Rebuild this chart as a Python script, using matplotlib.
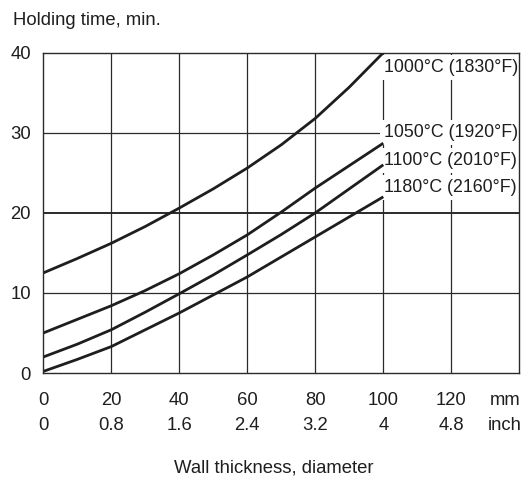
import matplotlib
matplotlib.use("Agg")
import matplotlib.pyplot as plt

plt.rcParams['font.family'] = ['Liberation Sans', 'DejaVu Sans']

# ---- data ----
thickness_mm = [0, 10, 20, 30, 40, 50, 60, 70, 80, 90, 100]
t_1000 = [12.5, 14.3, 16.2, 18.3, 20.6, 23.0, 25.6, 28.5, 31.8, 35.7, 40.0]
t_1050 = [5.0, 6.7, 8.4, 10.3, 12.4, 14.75, 17.25, 20.1, 23.1, 25.9, 28.7]
t_1100 = [2.0, 3.6, 5.4, 7.6, 9.9, 12.25, 14.75, 17.3, 20.0, 23.0, 26.0]
t_1180 = [0.2, 1.7, 3.3, 5.4, 7.5, 9.75, 12.0, 14.5, 17.0, 19.5, 22.0]
series = [t_1000, t_1050, t_1100, t_1180]
series_labels = ["1000°C (1830°F)", "1050°C (1920°F)", "1100°C (2010°F)", "1180°C (2160°F)"]
label_y = [38.2, 30.0, 26.5, 23.2]

x_ticks = [0, 20, 40, 60, 80, 100, 120]
x_labels_mm = ["0", "20", "40", "60", "80", "100", "120"]
x_labels_inch = ["0", "0.8", "1.6", "2.4", "3.2", "4", "4.8"]
y_ticks = [0, 10, 20, 30, 40]
y_labels = ["0", "10", "20", "30", "40"]

FS = 13.3
FS_LAB = 12.8
INK = "#1e1e1e"
GRID = "#2a2a2a"

fig = plt.figure(figsize=(5.31, 4.80), dpi=100)
ax = fig.add_axes([43.3 / 531, 1 - 373 / 480, (519.3 - 43.3) / 531, (373 - 52.7) / 480])
ax.set_xlim(0, 140)
ax.set_ylim(0, 40)

# grid
ax.vlines(x_ticks[1:], 0, 40, colors=GRID, linewidth=0.9, zorder=1)
for yv in y_ticks[1:-1]:
    ax.axhline(yv, color=GRID, linewidth=1.4 if yv == 20 else 0.9, zorder=1)

# curves
for ys in series:
    ax.plot(thickness_mm, ys, color=INK, linewidth=2.0, zorder=4, solid_capstyle='butt')

# labels with white box
for lab, yv in zip(series_labels, label_y):
    ax.text(100.3, yv, lab, ha='left', va='center', fontsize=FS_LAB, color=INK,
            zorder=3, bbox=dict(boxstyle='square,pad=0.22', facecolor='white', edgecolor='none'))

for s in ax.spines.values():
    s.set_color(GRID)
    s.set_linewidth(1.0)
    s.set_zorder(5)

# ticks
unit_pos = 135.7
ax.set_xticks(x_ticks + [unit_pos], labels=x_labels_mm + ["mm"])
ax.tick_params(axis='x', length=0, pad=13.5, labelsize=FS, labelcolor=INK)
sec = ax.secondary_xaxis('bottom')
sec.set_xticks(x_ticks + [unit_pos], labels=x_labels_inch + ["inch"])
sec.tick_params(axis='x', length=0, pad=31.5, labelsize=FS, labelcolor=INK)
sec.spines['bottom'].set_visible(False)

ax.set_yticks(y_ticks, labels=y_labels)
ax.tick_params(axis='y', length=0, pad=9, labelsize=FS, labelcolor=INK)

fig.text(12.7 / 531, 1 - 25.3 / 480, "Holding time, min.", ha='left', va='baseline',
         fontsize=FS, color=INK)
fig.text(274 / 531, 1 - 472.7 / 480, "Wall thickness, diameter", ha='center', va='baseline',
         fontsize=FS, color=INK)

fig.savefig("out.png", dpi=100, facecolor='white')
